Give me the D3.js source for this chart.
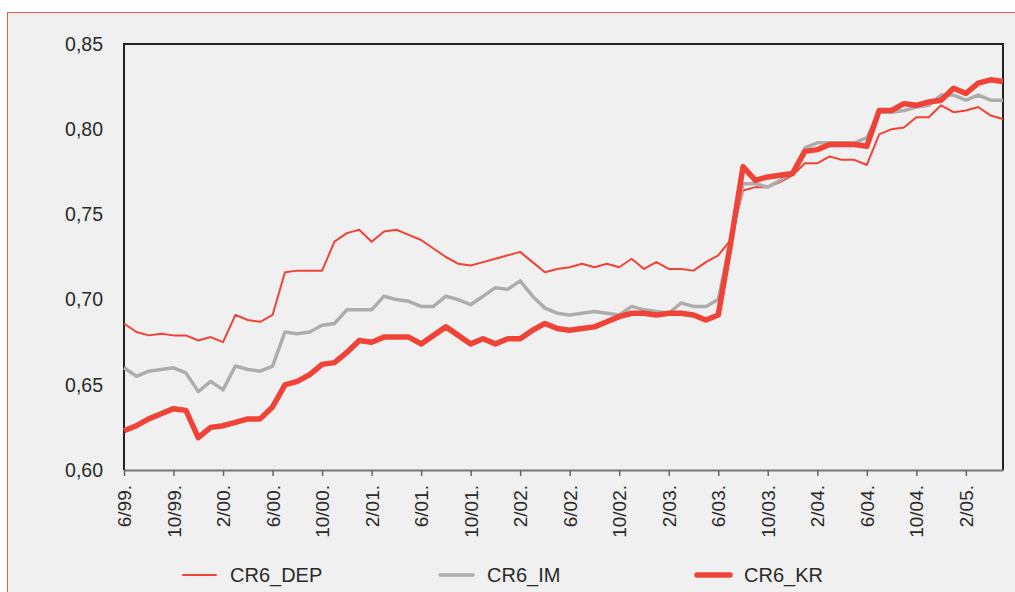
<!DOCTYPE html>
<html>
<head>
<meta charset="utf-8">
<script src="https://cdn.jsdelivr.net/npm/d3@7"></script>
<style>
  body { margin: 0; background: #fff; }
  svg { display: block; }
  text { font-family: "Liberation Sans", Arial, sans-serif; fill: #2a2a2a; }
</style>
</head>
<body>
<svg width="1015" height="592"></svg>
<script>
// months from 6/99 to 5/05
const months = d3.range(72).map(i => {
  const m = (5 + i) % 12 + 1;
  const y = (99 + Math.floor((5 + i) / 12)) % 100;
  return m + '/' + String(y).padStart(2, '0') + '.';
});
const tickLabels = months.filter((d, i) => i % 4 === 0);
const yTicks = [0.60, 0.65, 0.70, 0.75, 0.80, 0.85];

const cr6Dep = [0.686, 0.681, 0.679, 0.680, 0.679, 0.679, 0.676, 0.678, 0.675, 0.691,
  0.688, 0.687, 0.691, 0.716, 0.717, 0.717, 0.717, 0.734, 0.739, 0.741,
  0.734, 0.740, 0.741, 0.738, 0.735, 0.730, 0.725, 0.721, 0.720, 0.722,
  0.724, 0.726, 0.728, 0.722, 0.716, 0.718, 0.719, 0.721, 0.719, 0.721,
  0.719, 0.724, 0.718, 0.722, 0.718, 0.718, 0.717, 0.722, 0.726, 0.735,
  0.764, 0.766, 0.766, 0.769, 0.773, 0.780, 0.780, 0.784, 0.782, 0.782,
  0.779, 0.797, 0.800, 0.801, 0.807, 0.807, 0.814, 0.810, 0.811, 0.813,
  0.808, 0.806];
const cr6Im = [0.660, 0.655, 0.658, 0.659, 0.660, 0.657, 0.646, 0.652, 0.647, 0.661,
  0.659, 0.658, 0.661, 0.681, 0.680, 0.681, 0.685, 0.686, 0.694, 0.694,
  0.694, 0.702, 0.700, 0.699, 0.696, 0.696, 0.702, 0.700, 0.697, 0.702,
  0.707, 0.706, 0.711, 0.702, 0.695, 0.692, 0.691, 0.692, 0.693, 0.692,
  0.691, 0.696, 0.694, 0.693, 0.692, 0.698, 0.696, 0.696, 0.700, 0.735,
  0.768, 0.768, 0.766, 0.770, 0.775, 0.789, 0.792, 0.792, 0.792, 0.792,
  0.795, 0.810, 0.810, 0.811, 0.813, 0.814, 0.820, 0.820, 0.817, 0.820,
  0.817, 0.817];
const cr6Kr = [0.623, 0.626, 0.630, 0.633, 0.636, 0.635, 0.619, 0.625, 0.626, 0.628,
  0.630, 0.630, 0.637, 0.650, 0.652, 0.656, 0.662, 0.663, 0.669, 0.676,
  0.675, 0.678, 0.678, 0.678, 0.674, 0.679, 0.684, 0.679, 0.674, 0.677,
  0.674, 0.677, 0.677, 0.682, 0.686, 0.683, 0.682, 0.683, 0.684, 0.687,
  0.690, 0.692, 0.692, 0.691, 0.692, 0.692, 0.691, 0.688, 0.691, 0.733,
  0.778, 0.770, 0.772, 0.773, 0.774, 0.787, 0.788, 0.791, 0.791, 0.791,
  0.790, 0.811, 0.811, 0.815, 0.814, 0.816, 0.817, 0.824, 0.821, 0.827,
  0.829, 0.828];

const series = [
  { name: 'CR6_DEP', values: cr6Dep, color: '#f04338', width: 2 },
  { name: 'CR6_IM', values: cr6Im, color: '#adadad', width: 3.5 },
  { name: 'CR6_KR', values: cr6Kr, color: '#f04338', width: 5.5 }
];

const svg = d3.select('svg');

// background panel with red frame
svg.append('rect').attr('x', 7.5).attr('y', 12.5).attr('width', 1020).attr('height', 600)
  .attr('fill', '#eff0ef').attr('stroke', '#ee5a50').attr('stroke-width', 1);

const plotLeft = 124, plotRight = 1003, plotTop = 44, plotBottom = 470;

const x = d3.scalePoint().domain(months).range([plotLeft, plotRight]);
const y = d3.scaleLinear().domain([0.60, 0.85]).range([plotBottom, plotTop]);

// frame lines (top, right, left)
svg.append('path')
  .attr('d', `M${plotLeft},${plotBottom} V${plotTop} H${plotRight} V${plotBottom}`)
  .attr('fill', 'none').attr('stroke', '#222').attr('stroke-width', 2);

// x axis
const xAxis = svg.append('g')
  .attr('transform', `translate(0,${plotBottom})`)
  .call(d3.axisBottom(x).tickValues(tickLabels).tickSize(6).tickSizeOuter(0).tickPadding(8));
xAxis.select('.domain').attr('stroke', '#777').attr('stroke-width', 2);
xAxis.selectAll('.tick line').attr('stroke', '#666').attr('stroke-width', 1.5);
xAxis.selectAll('.tick text')
  .attr('font-size', 19)
  .attr('fill', '#2a2a2a')
  .attr('text-anchor', 'end')
  .attr('transform', 'rotate(-90)')
  .attr('x', -15).attr('y', 0).attr('dy', '0.35em');

// y axis labels
const yAxis = svg.append('g')
  .attr('transform', `translate(${plotLeft},0)`)
  .call(d3.axisLeft(y).tickValues(yTicks).tickSize(0).tickPadding(21)
    .tickFormat(d => d3.format('.2f')(d).replace('.', ',')));
yAxis.select('.domain').remove();
yAxis.selectAll('.tick text').attr('font-size', 19.5).attr('fill', '#2a2a2a');

// lines
const line = d3.line().x((d, i) => x(months[i])).y(d => y(d));
svg.append('g').selectAll('path').data(series).join('path')
  .attr('d', d => line(d.values))
  .attr('fill', 'none')
  .attr('stroke', d => d.color)
  .attr('stroke-width', d => d.width)
  .attr('stroke-linejoin', 'round');

// legend
const legendX = [183, 440, 697];
const legend = svg.append('g').selectAll('g').data(series).join('g')
  .attr('transform', (d, i) => `translate(${legendX[i]},575)`);
legend.append('line').attr('x1', 0).attr('x2', 33)
  .attr('stroke', d => d.color).attr('stroke-width', d => d.width)
  .attr('stroke-linecap', 'round');
legend.append('text').attr('x', 47).attr('dy', '0.35em')
  .attr('font-size', 20).text(d => d.name);
</script>
</body>
</html>
